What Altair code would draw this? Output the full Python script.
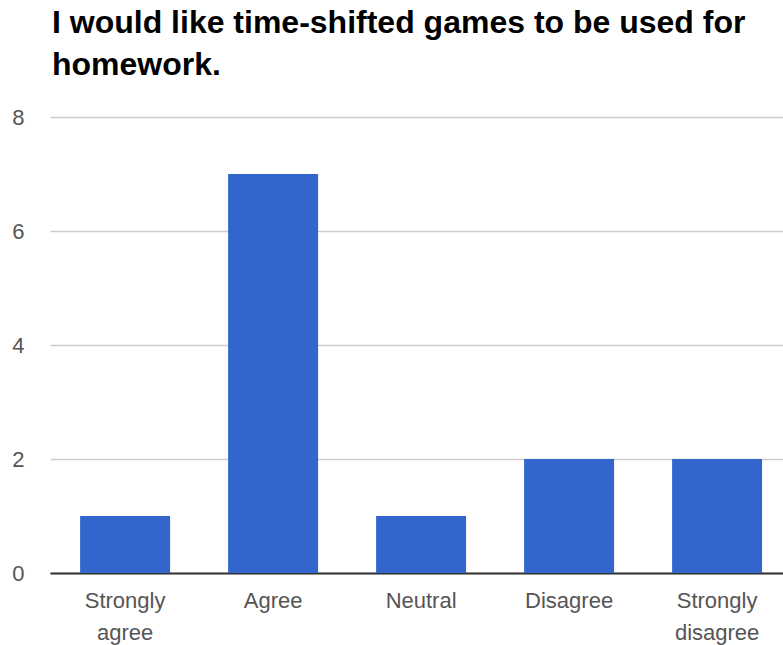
import altair as alt
import pandas as pd

categories = ["Strongly agree", "Agree", "Neutral", "Disagree", "Strongly disagree"]
counts = [1, 7, 1, 2, 2]
title_lines = ["I would like time-shifted games to be used for", "homework."]

df = pd.DataFrame({"cat": categories, "n": counts})

chart = alt.Chart(df).mark_bar(color="#3366CC").encode(
    x=alt.X("cat:N", sort=categories,
            scale=alt.Scale(paddingInner=0.392, paddingOuter=0.1725, align=0.59),
            axis=alt.Axis(title=None, labelAngle=0, ticks=False,
                          labelExpr="split(datum.label, ' ')",
                          labelFont="Liberation Sans", labelFontSize=22,
                          labelColor="#555555", labelPadding=17,
                          labelLineHeight=32,
                          domainColor="#333333", domainWidth=2, grid=False)),
    y=alt.Y("n:Q", scale=alt.Scale(domain=[0, 8]),
            axis=alt.Axis(title=None, values=[0, 2, 4, 6, 8], ticks=False,
                          domain=False, labelFont="Liberation Sans",
                          labelFontSize=22, labelColor="#555555",
                          labelPadding=26, gridColor="#cccccc", gridWidth=1.5)),
).properties(
    width=733, height=456,
    title=alt.TitleParams(text=title_lines, anchor="start", frame="group",
                          font="Liberation Sans", fontSize=32, fontWeight="bold",
                          color="#000000", lineHeight=42, offset=24, dx=2),
    autosize=alt.AutoSizeParams(type="none"),
    padding={"left": 50, "top": 117, "right": 0, "bottom": 72},
).configure_view(stroke=None)

chart.save("out.html", embed_options={"renderer": "svg", "actions": False})
